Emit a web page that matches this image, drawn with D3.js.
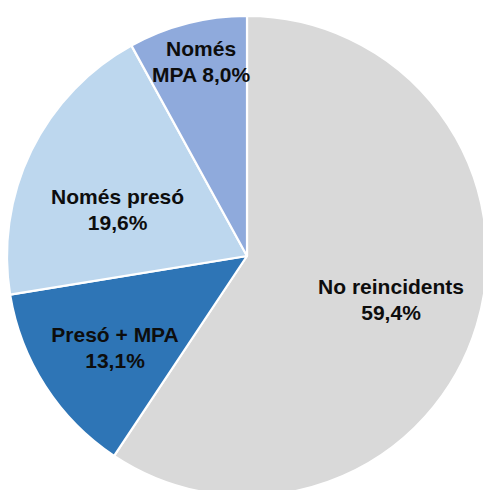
<!DOCTYPE html>
<html>
<head>
<meta charset="utf-8">
<script src="https://cdn.jsdelivr.net/npm/d3@7"></script>
<style>
  html, body { margin: 0; padding: 0; background: #fff; }
  svg { display: block; }
</style>
</head>
<body>
<script>
// Data
const categories = ["No reincidents", "Presó + MPA", "Només presó", "Només MPA"];
const values = [59.4, 13.1, 19.6, 8.0];
const valueLabels = ["59,4%", "13,1%", "19,6%", "8,0%"];
const labelLines = [["No reincidents", "59,4%"], ["Presó + MPA", "13,1%"], ["Només presó", "19,6%"], ["Només", "MPA 8,0%"]];

// Styling / layout config
const colors = ["#D9D9D9", "#2E75B6", "#BDD7EE", "#8FAADC"];
const labelRadiusFrac = [0.627, 0.669, 0.573, 0.833];
const labelAngleNudgeDeg = [0, -1.9, -6.2, 1.1];

const W = 483, H = 490;
const cx = 247, cy = 256, R = 240;

const svg = d3.select("body").append("svg").attr("width", W).attr("height", H);
const g = svg.append("g").attr("transform", `translate(${cx},${cy})`);

const data = categories.map((c, i) => ({ cat: c, value: values[i], i }));
const pie = d3.pie().value(d => d.value).sort(null);
const arcs = pie(data);
const arc = d3.arc().innerRadius(0).outerRadius(R);

g.selectAll("path.slice").data(arcs).enter().append("path")
  .attr("class", "slice")
  .attr("d", arc)
  .attr("fill", d => colors[d.data.i])
  .attr("stroke", "#fff")
  .attr("stroke-width", 2.2)
  .attr("stroke-linejoin", "round");

const labels = g.selectAll("text.lbl").data(arcs).enter().append("text")
  .attr("class", "lbl")
  .attr("text-anchor", "middle")
  .attr("font-family", "'Liberation Sans', Arial, sans-serif")
  .attr("font-weight", "bold")
  .attr("font-size", 21)
  .attr("fill", "#0d0d0d")
  .each(function(d) {
    const i = d.data.i;
    const mid = (d.startAngle + d.endAngle) / 2 + labelAngleNudgeDeg[i] * Math.PI / 180;
    const r = R * labelRadiusFrac[i];
    const x = r * Math.sin(mid);
    const y = -r * Math.cos(mid);
    const t = d3.select(this);
    labelLines[i].forEach((ln, k) => {
      t.append("tspan").attr("x", x).attr("y", y - 5.5 + k * 26).text(ln);
    });
  });
</script>
</body>
</html>
